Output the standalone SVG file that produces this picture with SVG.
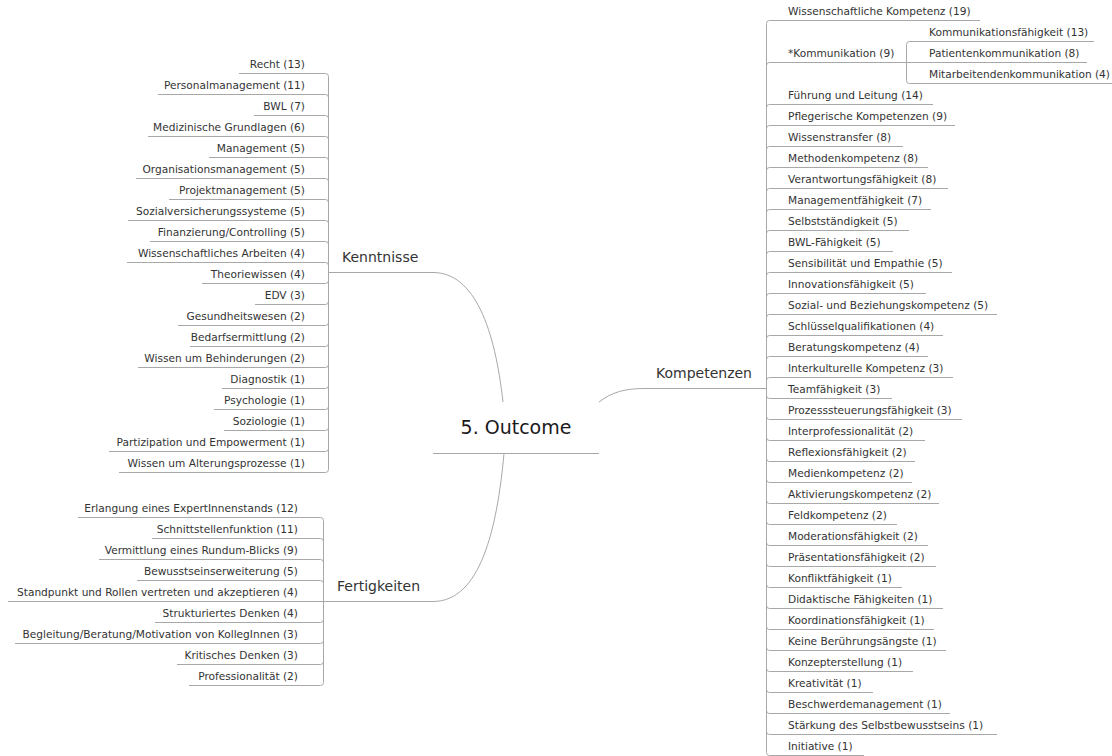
<svg xmlns="http://www.w3.org/2000/svg" width="1112" height="756" viewBox="0 0 1112 756">
<style>
.ln{fill:none;stroke:#a8a8a8;stroke-width:1}
.t{font-family:"DejaVu Sans",Verdana,sans-serif;font-size:10.6px;fill:#333}
.e{text-anchor:end}
.b{font-family:"DejaVu Sans",Verdana,sans-serif;font-size:14px;fill:#333}
.c{font-family:"DejaVu Sans",Verdana,sans-serif;font-size:19px;fill:#1a1a1a;text-anchor:middle}
</style>
<rect width="1112" height="756" fill="#fff"/>
<g id="connectors" class="ln">
<path d="M503,402 C495,330 475,272.5 433,272.5 H328.5"/>
<path d="M504,453.5 C497,530 480,601.5 433,601.5 H323.5"/>
<path d="M599,402 C612,392 625,388.5 645,388.5 H766.5"/>
<path d="M328.5,272.5 V76.5 Q328.5,73.5 325.5,73.5"/>
<path d="M328.5,272.5 V97.5 Q328.5,94.5 325.5,94.5"/>
<path d="M328.5,272.5 V118.5 Q328.5,115.5 325.5,115.5"/>
<path d="M328.5,272.5 V139.5 Q328.5,136.5 325.5,136.5"/>
<path d="M328.5,272.5 V160.5 Q328.5,157.5 325.5,157.5"/>
<path d="M328.5,272.5 V181.5 Q328.5,178.5 325.5,178.5"/>
<path d="M328.5,272.5 V202.5 Q328.5,199.5 325.5,199.5"/>
<path d="M328.5,272.5 V223.5 Q328.5,220.5 325.5,220.5"/>
<path d="M328.5,272.5 V244.5 Q328.5,241.5 325.5,241.5"/>
<path d="M328.5,272.5 V265.5 Q328.5,262.5 325.5,262.5"/>
<path d="M328.5,272.5 V280.5 Q328.5,283.5 325.5,283.5"/>
<path d="M328.5,272.5 V301.5 Q328.5,304.5 325.5,304.5"/>
<path d="M328.5,272.5 V322.5 Q328.5,325.5 325.5,325.5"/>
<path d="M328.5,272.5 V343.5 Q328.5,346.5 325.5,346.5"/>
<path d="M328.5,272.5 V364.5 Q328.5,367.5 325.5,367.5"/>
<path d="M328.5,272.5 V385.5 Q328.5,388.5 325.5,388.5"/>
<path d="M328.5,272.5 V406.5 Q328.5,409.5 325.5,409.5"/>
<path d="M328.5,272.5 V427.5 Q328.5,430.5 325.5,430.5"/>
<path d="M328.5,272.5 V448.5 Q328.5,451.5 325.5,451.5"/>
<path d="M328.5,272.5 V469.5 Q328.5,472.5 325.5,472.5"/>
<path d="M323.5,601.5 V520.5 Q323.5,517.5 320.5,517.5"/>
<path d="M323.5,601.5 V541.5 Q323.5,538.5 320.5,538.5"/>
<path d="M323.5,601.5 V562.5 Q323.5,559.5 320.5,559.5"/>
<path d="M323.5,601.5 V583.5 Q323.5,580.5 320.5,580.5"/>
<path d="M323.5,601.5 V619.5 Q323.5,622.5 320.5,622.5"/>
<path d="M323.5,601.5 V640.5 Q323.5,643.5 320.5,643.5"/>
<path d="M323.5,601.5 V661.5 Q323.5,664.5 320.5,664.5"/>
<path d="M323.5,601.5 V682.5 Q323.5,685.5 320.5,685.5"/>
<path d="M766.5,388.5 V23.5 Q766.5,20.5 769.5,20.5"/>
<path d="M766.5,388.5 V65.5 Q766.5,62.5 769.5,62.5"/>
<path d="M766.5,388.5 V107.5 Q766.5,104.5 769.5,104.5"/>
<path d="M766.5,388.5 V128.5 Q766.5,125.5 769.5,125.5"/>
<path d="M766.5,388.5 V149.5 Q766.5,146.5 769.5,146.5"/>
<path d="M766.5,388.5 V170.5 Q766.5,167.5 769.5,167.5"/>
<path d="M766.5,388.5 V191.5 Q766.5,188.5 769.5,188.5"/>
<path d="M766.5,388.5 V212.5 Q766.5,209.5 769.5,209.5"/>
<path d="M766.5,388.5 V233.5 Q766.5,230.5 769.5,230.5"/>
<path d="M766.5,388.5 V254.5 Q766.5,251.5 769.5,251.5"/>
<path d="M766.5,388.5 V275.5 Q766.5,272.5 769.5,272.5"/>
<path d="M766.5,388.5 V296.5 Q766.5,293.5 769.5,293.5"/>
<path d="M766.5,388.5 V317.5 Q766.5,314.5 769.5,314.5"/>
<path d="M766.5,388.5 V338.5 Q766.5,335.5 769.5,335.5"/>
<path d="M766.5,388.5 V359.5 Q766.5,356.5 769.5,356.5"/>
<path d="M766.5,388.5 V380.5 Q766.5,377.5 769.5,377.5"/>
<path d="M766.5,388.5 V395.5 Q766.5,398.5 769.5,398.5"/>
<path d="M766.5,388.5 V416.5 Q766.5,419.5 769.5,419.5"/>
<path d="M766.5,388.5 V437.5 Q766.5,440.5 769.5,440.5"/>
<path d="M766.5,388.5 V458.5 Q766.5,461.5 769.5,461.5"/>
<path d="M766.5,388.5 V479.5 Q766.5,482.5 769.5,482.5"/>
<path d="M766.5,388.5 V500.5 Q766.5,503.5 769.5,503.5"/>
<path d="M766.5,388.5 V521.5 Q766.5,524.5 769.5,524.5"/>
<path d="M766.5,388.5 V542.5 Q766.5,545.5 769.5,545.5"/>
<path d="M766.5,388.5 V563.5 Q766.5,566.5 769.5,566.5"/>
<path d="M766.5,388.5 V584.5 Q766.5,587.5 769.5,587.5"/>
<path d="M766.5,388.5 V605.5 Q766.5,608.5 769.5,608.5"/>
<path d="M766.5,388.5 V626.5 Q766.5,629.5 769.5,629.5"/>
<path d="M766.5,388.5 V647.5 Q766.5,650.5 769.5,650.5"/>
<path d="M766.5,388.5 V668.5 Q766.5,671.5 769.5,671.5"/>
<path d="M766.5,388.5 V689.5 Q766.5,692.5 769.5,692.5"/>
<path d="M766.5,388.5 V710.5 Q766.5,713.5 769.5,713.5"/>
<path d="M766.5,388.5 V731.5 Q766.5,734.5 769.5,734.5"/>
<path d="M766.5,388.5 V752.5 Q766.5,755.5 769.5,755.5"/>
<path d="M906.5,62.5 V44.5 Q906.5,41.5 909.5,41.5"/>
<path d="M906.5,62.5 V80.5 Q906.5,83.5 909.5,83.5"/>
</g>
<g id="center"><text class="c" x="516" y="434">5. Outcome</text><path class="ln" d="M433,453.5 H599"/></g>
<g id="kenntnisse"><text class="b" x="342" y="262">Kenntnisse</text></g>
<g id="fertigkeiten"><text class="b" x="337" y="591">Fertigkeiten</text></g>
<g id="kompetenzen"><text class="b" x="656" y="378">Kompetenzen</text></g>
<g id="k-items">
<g id="k1"><text class="t e" x="305" y="67.5">Recht (13)</text><path class="ln" d="M325.5,73.5 H239"/></g>
<g id="k2"><text class="t e" x="305" y="88.5">Personalmanagement (11)</text><path class="ln" d="M325.5,94.5 H158"/></g>
<g id="k3"><text class="t e" x="305" y="109.5">BWL (7)</text><path class="ln" d="M325.5,115.5 H254"/></g>
<g id="k4"><text class="t e" x="305" y="130.5">Medizinische Grundlagen (6)</text><path class="ln" d="M325.5,136.5 H148"/></g>
<g id="k5"><text class="t e" x="305" y="151.5">Management (5)</text><path class="ln" d="M325.5,157.5 H209"/></g>
<g id="k6"><text class="t e" x="305" y="172.5">Organisationsmanagement (5)</text><path class="ln" d="M325.5,178.5 H136"/></g>
<g id="k7"><text class="t e" x="305" y="193.5">Projektmanagement (5)</text><path class="ln" d="M325.5,199.5 H169"/></g>
<g id="k8"><text class="t e" x="305" y="214.5">Sozialversicherungssysteme (5)</text><path class="ln" d="M325.5,220.5 H128"/></g>
<g id="k9"><text class="t e" x="305" y="235.5">Finanzierung/Controlling (5)</text><path class="ln" d="M325.5,241.5 H150"/></g>
<g id="k10"><text class="t e" x="305" y="256.5">Wissenschaftliches Arbeiten (4)</text><path class="ln" d="M325.5,262.5 H127"/></g>
<g id="k11"><text class="t e" x="305" y="277.5">Theoriewissen (4)</text><path class="ln" d="M325.5,283.5 H202"/></g>
<g id="k12"><text class="t e" x="305" y="298.5">EDV (3)</text><path class="ln" d="M325.5,304.5 H255"/></g>
<g id="k13"><text class="t e" x="305" y="319.5">Gesundheitswesen (2)</text><path class="ln" d="M325.5,325.5 H178"/></g>
<g id="k14"><text class="t e" x="305" y="340.5">Bedarfsermittlung (2)</text><path class="ln" d="M325.5,346.5 H190"/></g>
<g id="k15"><text class="t e" x="305" y="361.5">Wissen um Behinderungen (2)</text><path class="ln" d="M325.5,367.5 H138"/></g>
<g id="k16"><text class="t e" x="305" y="382.5">Diagnostik (1)</text><path class="ln" d="M325.5,388.5 H222"/></g>
<g id="k17"><text class="t e" x="305" y="403.5">Psychologie (1)</text><path class="ln" d="M325.5,409.5 H214"/></g>
<g id="k18"><text class="t e" x="305" y="424.5">Soziologie (1)</text><path class="ln" d="M325.5,430.5 H224"/></g>
<g id="k19"><text class="t e" x="305" y="445.5">Partizipation und Empowerment (1)</text><path class="ln" d="M325.5,451.5 H109"/></g>
<g id="k20"><text class="t e" x="305" y="466.5">Wissen um Alterungsprozesse (1)</text><path class="ln" d="M325.5,472.5 H119"/></g>
</g>
<g id="f-items">
<g id="f1"><text class="t e" x="298" y="511.5">Erlangung eines ExpertInnenstands (12)</text><path class="ln" d="M320.5,517.5 H78"/></g>
<g id="f2"><text class="t e" x="298" y="532.5">Schnittstellenfunktion (11)</text><path class="ln" d="M320.5,538.5 H152"/></g>
<g id="f3"><text class="t e" x="298" y="553.5">Vermittlung eines Rundum-Blicks (9)</text><path class="ln" d="M320.5,559.5 H99"/></g>
<g id="f4"><text class="t e" x="298" y="574.5">Bewusstseinserweiterung (5)</text><path class="ln" d="M320.5,580.5 H137"/></g>
<g id="f5"><text class="t e" x="298" y="595.5">Standpunkt und Rollen vertreten und akzeptieren (4)</text><path class="ln" d="M323.5,601.5 H8"/></g>
<g id="f6"><text class="t e" x="298" y="616.5">Strukturiertes Denken (4)</text><path class="ln" d="M320.5,622.5 H155"/></g>
<g id="f7"><text class="t e" x="298" y="637.5">Begleitung/Beratung/Motivation von KollegInnen (3)</text><path class="ln" d="M320.5,643.5 H15"/></g>
<g id="f8"><text class="t e" x="298" y="658.5">Kritisches Denken (3)</text><path class="ln" d="M320.5,664.5 H177"/></g>
<g id="f9"><text class="t e" x="298" y="679.5">Professionalität (2)</text><path class="ln" d="M320.5,685.5 H189"/></g>
</g>
<g id="c-items">
<g id="c1"><text class="t" x="788" y="14.5">Wissenschaftliche Kompetenz (19)</text><path class="ln" d="M769.5,20.5 H980"/></g>
<g id="c2"><text class="t" x="788" y="56.5">*Kommunikation (9)</text><path class="ln" d="M769.5,62.5 H906.5"/></g>
<g id="c2a"><text class="t" x="929" y="35.5">Kommunikationsfähigkeit (13)</text><path class="ln" d="M909.5,41.5 H1094"/></g>
<g id="c2b"><text class="t" x="929" y="56.5">Patientenkommunikation (8)</text><path class="ln" d="M906.5,62.5 H1087"/></g>
<g id="c2c"><text class="t" x="929" y="77.5">Mitarbeitendenkommunikation (4)</text><path class="ln" d="M909.5,83.5 H1112"/></g>
<g id="c3"><text class="t" x="788" y="98.5">Führung und Leitung (14)</text><path class="ln" d="M769.5,104.5 H933"/></g>
<g id="c4"><text class="t" x="788" y="119.5">Pflegerische Kompetenzen (9)</text><path class="ln" d="M769.5,125.5 H955"/></g>
<g id="c5"><text class="t" x="788" y="140.5">Wissenstransfer (8)</text><path class="ln" d="M769.5,146.5 H903"/></g>
<g id="c6"><text class="t" x="788" y="161.5">Methodenkompetenz (8)</text><path class="ln" d="M769.5,167.5 H928"/></g>
<g id="c7"><text class="t" x="788" y="182.5">Verantwortungsfähigkeit (8)</text><path class="ln" d="M769.5,188.5 H948"/></g>
<g id="c8"><text class="t" x="788" y="203.5">Managementfähigkeit (7)</text><path class="ln" d="M769.5,209.5 H931"/></g>
<g id="c9"><text class="t" x="788" y="224.5">Selbstständigkeit (5)</text><path class="ln" d="M769.5,230.5 H909"/></g>
<g id="c10"><text class="t" x="788" y="245.5">BWL-Fähigkeit (5)</text><path class="ln" d="M769.5,251.5 H893"/></g>
<g id="c11"><text class="t" x="788" y="266.5">Sensibilität und Empathie (5)</text><path class="ln" d="M769.5,272.5 H952"/></g>
<g id="c12"><text class="t" x="788" y="287.5">Innovationsfähigkeit (5)</text><path class="ln" d="M769.5,293.5 H926"/></g>
<g id="c13"><text class="t" x="788" y="308.5">Sozial- und Beziehungskompetenz (5)</text><path class="ln" d="M769.5,314.5 H997"/></g>
<g id="c14"><text class="t" x="788" y="329.5">Schlüsselqualifikationen (4)</text><path class="ln" d="M769.5,335.5 H943"/></g>
<g id="c15"><text class="t" x="788" y="350.5">Beratungskompetenz (4)</text><path class="ln" d="M769.5,356.5 H928"/></g>
<g id="c16"><text class="t" x="788" y="371.5">Interkulturelle Kompetenz (3)</text><path class="ln" d="M769.5,377.5 H953"/></g>
<g id="c17"><text class="t" x="788" y="392.5">Teamfähigkeit (3)</text><path class="ln" d="M769.5,398.5 H892"/></g>
<g id="c18"><text class="t" x="788" y="413.5">Prozesssteuerungsfähigkeit (3)</text><path class="ln" d="M769.5,419.5 H962"/></g>
<g id="c19"><text class="t" x="788" y="434.5">Interprofessionalität (2)</text><path class="ln" d="M769.5,440.5 H925"/></g>
<g id="c20"><text class="t" x="788" y="455.5">Reflexionsfähigkeit (2)</text><path class="ln" d="M769.5,461.5 H915"/></g>
<g id="c21"><text class="t" x="788" y="476.5">Medienkompetenz (2)</text><path class="ln" d="M769.5,482.5 H912"/></g>
<g id="c22"><text class="t" x="788" y="497.5">Aktivierungskompetenz (2)</text><path class="ln" d="M769.5,503.5 H939"/></g>
<g id="c23"><text class="t" x="788" y="518.5">Feldkompetenz (2)</text><path class="ln" d="M769.5,524.5 H897"/></g>
<g id="c24"><text class="t" x="788" y="539.5">Moderationsfähigkeit (2)</text><path class="ln" d="M769.5,545.5 H928"/></g>
<g id="c25"><text class="t" x="788" y="560.5">Präsentationsfähigkeit (2)</text><path class="ln" d="M769.5,566.5 H936"/></g>
<g id="c26"><text class="t" x="788" y="581.5">Konfliktfähigkeit (1)</text><path class="ln" d="M769.5,587.5 H902"/></g>
<g id="c27"><text class="t" x="788" y="602.5">Didaktische Fähigkeiten (1)</text><path class="ln" d="M769.5,608.5 H943"/></g>
<g id="c28"><text class="t" x="788" y="623.5">Koordinationsfähigkeit (1)</text><path class="ln" d="M769.5,629.5 H934"/></g>
<g id="c29"><text class="t" x="788" y="644.5">Keine Berührungsängste (1)</text><path class="ln" d="M769.5,650.5 H946"/></g>
<g id="c30"><text class="t" x="788" y="665.5">Konzepterstellung (1)</text><path class="ln" d="M769.5,671.5 H913"/></g>
<g id="c31"><text class="t" x="788" y="686.5">Kreativität (1)</text><path class="ln" d="M769.5,692.5 H873"/></g>
<g id="c32"><text class="t" x="788" y="707.5">Beschwerdemanagement (1)</text><path class="ln" d="M769.5,713.5 H950"/></g>
<g id="c33"><text class="t" x="788" y="728.5">Stärkung des Selbstbewusstseins (1)</text><path class="ln" d="M769.5,734.5 H997"/></g>
<g id="c34"><text class="t" x="788" y="749.5">Initiative (1)</text><path class="ln" d="M769.5,755.5 H864"/></g>
</g>
</svg>
